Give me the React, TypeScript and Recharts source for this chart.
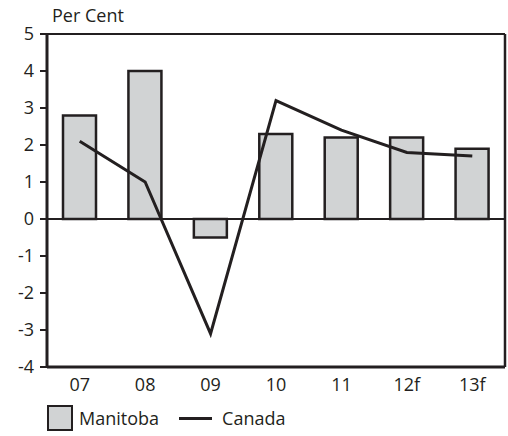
import { ComposedChart, Bar, Line, XAxis, YAxis, ReferenceLine } from 'recharts';

const years = ['07', '08', '09', '10', '11', '12f', '13f'];
const manitoba = [2.8, 4.0, -0.5, 2.3, 2.2, 2.2, 1.9];
const canada = [2.1, 1.0, -3.1, 3.2, 2.4, 1.8, 1.7];
const yTicks = [-4, -3, -2, -1, 0, 1, 2, 3, 4, 5];

const data = years.map((year, i) => ({ year, manitoba: manitoba[i], canada: canada[i] }));

const font = '"Open Sans", sans-serif';
const ink = '#231f20';

export default function App() {
  return (
    <div style={{ position: 'relative', width: 508, height: 436, background: '#fff', fontFamily: font }}>
      <style>{`body{margin:0}`}</style>
      <ComposedChart
        width={508}
        height={436}
        data={data}
        margin={{ top: 34, right: 0, left: 0, bottom: 0 }}
      >
        <XAxis
          dataKey="year"
          height={69}
          tickLine={false}
          axisLine={{ stroke: ink, strokeWidth: 3 }}
          tick={{ fill: ink, fontSize: 18, fontFamily: font }}
          tickMargin={5}
        />
        <YAxis
          domain={[-4, 5]}
          ticks={yTicks}
          interval={0}
          width={47}
          tickSize={7}
          tickMargin={6}
          tickLine={{ stroke: ink, strokeWidth: 2 }}
          axisLine={{ stroke: ink, strokeWidth: 3 }}
          tick={{ fill: ink, fontSize: 18, fontFamily: font }}
        />
        <YAxis yAxisId="right" orientation="right" domain={[-4, 5]} width={3} tick={false} tickLine={false} axisLine={{ stroke: ink, strokeWidth: 2.5 }} />
        <ReferenceLine y={5} stroke={ink} strokeWidth={2} />
        <ReferenceLine y={0} stroke={ink} strokeWidth={2} />
        <Bar dataKey="manitoba" fill="#d1d3d4" stroke={ink} strokeWidth={2.5} barSize={33} isAnimationActive={false} />
        <Line type="linear" dataKey="canada" stroke={ink} strokeWidth={3} dot={false} isAnimationActive={false} />
      </ComposedChart>
      <div style={{ position: 'absolute', left: 52, top: 3, fontSize: 18, color: ink, lineHeight: '24px', whiteSpace: 'nowrap' }}>Per Cent</div>
      <div style={{ position: 'absolute', left: 47, top: 405, display: 'flex', alignItems: 'center', fontSize: 18, color: ink }}>
        <span style={{ width: 22, height: 22, background: '#d1d3d4', border: `2.5px solid ${ink}`, display: 'inline-block' }} />
        <span style={{ marginLeft: 6 }}>Manitoba</span>
        <span style={{ width: 33, height: 0, borderTop: `3px solid ${ink}`, display: 'inline-block', marginLeft: 20 }} />
        <span style={{ marginLeft: 10 }}>Canada</span>
      </div>
    </div>
  );
}
